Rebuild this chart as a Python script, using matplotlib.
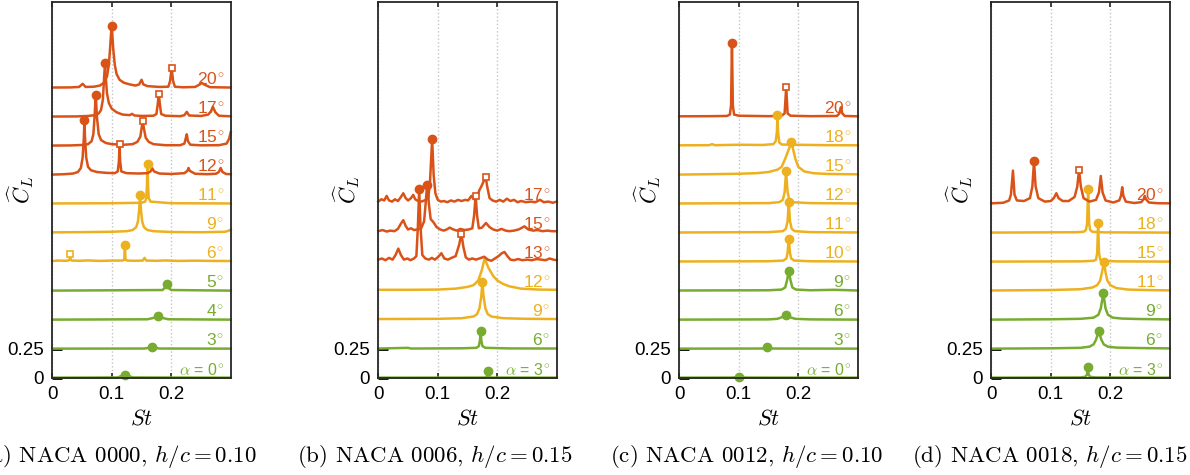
import numpy as np
import matplotlib
matplotlib.use("Agg")
import matplotlib.pyplot as plt

plt.rcParams['font.family'] = ['Liberation Sans', 'DejaVu Sans']
plt.rcParams['mathtext.fontset'] = 'cm'

GREEN = '#77AC30'
YELLOW = '#EDB120'
RED = '#D95319'
COL = {'g': GREEN, 'y': YELLOW, 'r': RED}

# ---------------- panel (a) NACA 0000, h/c = 0.10 ----------------
a_angles = [0, 3, 4, 5, 6, 9, 11, 12, 15, 17, 20]
a_regime = ['g', 'g', 'g', 'g', 'y', 'y', 'y', 'r', 'r', 'r', 'r']
a00 = [(0, .003), (.11, .005), (.122, .03), (.135, .005), (.3, .003)]
a03 = [(0, .003), (.155, .004), (.167, .015), (.18, .004), (.3, .003)]
a04 = [(0, .003), (.16, .006), (.172, .02), (.177, .035), (.183, .02), (.195, .006), (.3, .003)]
a05 = [(0, .003), (.185, .008), (.19, .03), (.192, .058), (.194, .03), (.2, .008), (.3, .003)]
a06 = [(0, .008), (.01, .012), (.02, .01), (.027, .012), (.029, .02), (.03, .07), (.031, .02),
       (.033, .012), (.045, .01), (.06, .013), (.08, .009), (.1, .012), (.118, .012), (.121, .02),
       (.122, .15), (.123, .02), (.126, .012), (.14, .01), (.152, .012), (.155, .035), (.158, .012),
       (.175, .01), (.19, .013), (.21, .009), (.24, .011), (.27, .009), (.3, .008)]
a09 = [(0, .005), (.05, .007), (.1, .01), (.125, .015), (.135, .025), (.141, .05), (.144, .1),
       (.146, .2), (.1475, .33), (.149, .2), (.151, .1), (.154, .05), (.16, .025), (.17, .015),
       (.2, .008), (.25, .006), (.29, .01), (.297, .02), (.3, .03)]
a11 = [(0, .004), (.1, .006), (.15, .01), (.156, .02), (.158, .05), (.159, .15), (.16, .34),
       (.161, .15), (.162, .05), (.165, .02), (.2, .006), (.3, .004)]
a12 = [(0, .003), (.02, .006), (.035, .012), (.043, .025), (.048, .06), (.051, .15), (.053, .32),
       (.054, .47), (.055, .32), (.057, .15), (.06, .07), (.065, .04), (.075, .025), (.09, .018),
       (.105, .015), (.11, .03), (.112, .12), (.113, .27), (.114, .12), (.116, .03), (.125, .015),
       (.145, .012), (.16, .015), (.165, .03), (.168, .057), (.171, .03), (.18, .012), (.2, .008),
       (.222, .015), (.227, .035), (.229, .06), (.231, .035), (.24, .01), (.26, .006), (.275, .01),
       (.28, .025), (.283, .06), (.286, .025), (.292, .008), (.3, .006)]
a15 = [(0, .003), (.03, .004), (.05, .008), (.06, .015), (.066, .04), (.069, .1), (.071, .25),
       (.073, .44), (.075, .25), (.078, .1), (.082, .05), (.09, .025), (.1, .015), (.12, .01),
       (.135, .015), (.143, .035), (.148, .08), (.15, .15), (.152, .215), (.154, .15), (.157, .07),
       (.162, .035), (.17, .015), (.19, .006), (.215, .006), (.222, .02), (.224, .06), (.226, .1),
       (.228, .04), (.232, .01), (.25, .005), (.28, .006), (.293, .02), (.297, .06), (.3, .12)]
a17 = [(0, .003), (.04, .004), (.06, .008), (.072, .015), (.078, .03), (.082, .06), (.085, .15),
       (.087, .33), (.0886, .466), (.09, .33), (.092, .2), (.095, .12), (.1, .07), (.108, .04),
       (.118, .02), (.13, .015), (.134, .026), (.138, .012), (.15, .008), (.17, .01), (.175, .025),
       (.177, .1), (.179, .2), (.181, .1), (.183, .025), (.19, .01), (.215, .006), (.222, .015),
       (.226, .043), (.23, .012), (.25, .008), (.262, .02), (.267, .05), (.27, .086), (.274, .04),
       (.28, .01), (.3, .005)]
a20 = [(0, .003), (.03, .004), (.045, .008), (.051, .035), (.056, .008), (.07, .01), (.08, .02),
       (.087, .045), (.092, .1), (.095, .2), (.097, .33), (.0985, .45), (.0998, .53), (.101, .45),
       (.1025, .33), (.105, .2), (.108, .12), (.113, .07), (.12, .045), (.13, .03), (.14, .02),
       (.146, .03), (.15, .07), (.153, .03), (.16, .015), (.18, .008), (.195, .01), (.198, .06),
       (.2006, .17), (.203, .06), (.206, .01), (.22, .005), (.24, .008), (.248, .03), (.251, .043),
       (.255, .03), (.265, .006), (.3, .003)]
a_curves = [a00, a03, a04, a05, a06, a09, a11, a12, a15, a17, a20]
a_peak = [(.122, .03), (.167, .015), (.177, .035), (.192, .058), (.122, .15), (.1475, .33),
          (.16, .34), (.054, .47), (.073, .44), (.0886, .466), (.0998, .53)]
a_second = [None, None, None, None, (.03, .07), None, None, (.113, .27), (.152, .215),
            (.179, .2), (.2006, .17)]

# ---------------- panel (b) NACA 0006, h/c = 0.15 ----------------
b_angles = [3, 6, 9, 12, 13, 15, 17]
b_regime = ['g', 'g', 'y', 'y', 'r', 'r', 'r']
b03 = [(0, .003), (.18, .004), (.183, .015), (.184, .06), (.185, .015), (.188, .004), (.3, .003)]
b06 = [(0, .004), (.05, .01), (.055, .004), (.1, .005), (.14, .006), (.165, .01), (.169, .025),
       (.171, .08), (.172, .158), (.173, .08), (.175, .025), (.18, .01), (.22, .005), (.3, .004)]
b09 = [(0, .008), (.1, .01), (.14, .015), (.16, .03), (.166, .05), (.17, .1), (.173, .2),
       (.175, .324), (.177, .2), (.18, .1), (.184, .05), (.19, .03), (.21, .015), (.25, .01), (.3, .008)]
b12 = [(0, .01), (.05, .01), (.1, .012), (.13, .02), (.15, .035), (.16, .05), (.168, .09),
       (.174, .18), (.1787, .28), (.185, .2), (.193, .13), (.2, .09), (.21, .06), (.22, .04),
       (.24, .02), (.27, .012), (.3, .01)]
b13 = [(0, .02), (.006, .03), (.012, .015), (.018, .035), (.024, .02), (.029, .06), (.0336, .115),
       (.038, .06), (.043, .02), (.049, .03), (.054, .015), (.06, .03), (.064, .05), (.0665, .3),
       (.0687, .626), (.071, .3), (.074, .06), (.079, .03), (.085, .02), (.09, .035), (.095, .02),
       (.1, .04), (.106, .075), (.111, .03), (.117, .02), (.123, .035), (.13, .05), (.136, .15),
       (.1396, .244), (.143, .13), (.147, .04), (.152, .02), (.158, .03), (.164, .02), (.17, .03),
       (.178, .045), (.184, .02), (.19, .01), (.196, .03), (.202, .05), (.2075, .075), (.212, .086),
       (.217, .05), (.222, .02), (.228, .015), (.235, .025), (.242, .015), (.25, .02), (.258, .015),
       (.266, .025), (.274, .02), (.281, .015), (.288, .03), (.294, .02), (.3, .015)]
b15 = [(0, .015), (.007, .025), (.014, .012), (.02, .02), (.027, .015), (.033, .035), (.038, .08),
       (.042, .11), (.046, .06), (.05, .03), (.055, .04), (.06, .025), (.066, .03), (.072, .04),
       (.077, .1), (.0795, .25), (.0821, .417), (.085, .25), (.088, .12), (.093, .09), (.098, .05),
       (.104, .03), (.11, .02), (.115, .03), (.12, .046), (.126, .03), (.132, .02), (.138, .035),
       (.145, .025), (.152, .03), (.158, .04), (.161, .15), (.1636, .319), (.166, .15), (.169, .04),
       (.174, .045), (.181, .086), (.187, .05), (.193, .03), (.2, .02), (.207, .035), (.214, .02),
       (.22, .015), (.228, .02), (.236, .03), (.2457, .057), (.252, .03), (.26, .02), (.268, .025),
       (.276, .015), (.284, .02), (.292, .015), (.3, .015)]
b17 = [(0, .02), (.005, .04), (.01, .03), (.014, .069), (.018, .03), (.023, .02), (.028, .04),
       (.033, .025), (.038, .06), (.042, .092), (.046, .05), (.05, .03), (.055, .05), (.0587, .078),
       (.062, .04), (.067, .025), (.072, .02), (.078, .03), (.084, .05), (.087, .2), (.0905, .557),
       (.093, .25), (.096, .09), (.1, .035), (.105, .02), (.11, .025), (.116, .015), (.122, .03),
       (.128, .02), (.134, .035), (.14, .025), (.146, .035), (.151, .03), (.1564, .069), (.161, .04),
       (.166, .06), (.17, .12), (.173, .149), (.1775, .2), (.1804, .236), (.183, .15), (.187, .05),
       (.192, .03), (.198, .02), (.204, .035), (.21, .02), (.216, .045), (.222, .025), (.228, .035),
       (.234, .015), (.24, .025), (.248, .015), (.256, .02), (.264, .015), (.272, .035), (.278, .015),
       (.286, .02), (.293, .01), (.3, .02)]
b_curves = [b03, b06, b09, b12, b13, b15, b17]
b_peak = [(.184, .06), (.172, .158), (.175, .324), None, (.0687, .626), (.0821, .417), (.0905, .557)]
b_second = [None, None, None, None, (.1396, .244), (.1636, .319), (.1804, .236)]

# ---------------- panel (c) NACA 0012, h/c = 0.10 ----------------
c_angles = [0, 3, 6, 9, 10, 11, 12, 15, 18, 20]
c_regime = ['g', 'g', 'g', 'g', 'y', 'y', 'y', 'y', 'y', 'r']
c00 = [(0, .003), (.09, .004), (.101, .012), (.11, .004), (.3, .003)]
c03 = [(0, .003), (.14, .004), (.148, .015), (.156, .004), (.3, .003)]
c06 = [(0, .003), (.15, .005), (.165, .01), (.173, .025), (.179, .045), (.185, .025), (.195, .01),
       (.22, .005), (.3, .003)]
c09 = [(0, .004), (.15, .006), (.172, .012), (.178, .03), (.181, .09), (.184, .17), (.187, .09),
       (.19, .03), (.196, .012), (.22, .006), (.26, .01), (.3, .004)]
c10 = [(0, .004), (.15, .006), (.175, .012), (.18, .03), (.182, .08), (.184, .2), (.186, .08),
       (.188, .03), (.193, .012), (.22, .006), (.3, .004)]
c11 = [(0, .004), (.15, .007), (.174, .015), (.179, .035), (.182, .1), (.184, .265), (.186, .1),
       (.189, .035), (.194, .015), (.22, .007), (.3, .004)]
c12 = [(0, .004), (.15, .007), (.168, .015), (.174, .035), (.177, .1), (.1795, .28), (.182, .1),
       (.185, .035), (.19, .015), (.22, .007), (.3, .004)]
c15 = [(0, .003), (.05, .006), (.1, .01), (.13, .015), (.15, .025), (.165, .045), (.172, .07),
       (.178, .14), (.1885, .28), (.195, .14), (.2, .07), (.21, .03), (.225, .015), (.25, .008),
       (.3, .005)]
c18 = [(0, .005), (.05, .006), (.055, .015), (.06, .006), (.1, .01), (.14, .008), (.158, .015),
       (.162, .04), (.164, .12), (.165, .265), (.166, .12), (.168, .03), (.172, .012), (.185, .01),
       (.19, .02), (.195, .01), (.25, .006), (.3, .005)]
c20 = [(0, .005), (.05, .006), (.08, .008), (.085, .02), (.087, .1), (.0885, .64), (.09, .1),
       (.092, .02), (.1, .01), (.15, .006), (.172, .01), (.177, .03), (.1797, .26), (.182, .03),
       (.187, .01), (.22, .006), (.265, .008), (.269, .03), (.2715, .083), (.274, .03), (.278, .008),
       (.3, .005)]
c_curves = [c00, c03, c06, c09, c10, c11, c12, c15, c18, c20]
c_peak = [(.101, .012), (.148, .015), (.179, .045), (.184, .17), (.184, .2), (.184, .265),
          (.1795, .28), (.1885, .28), (.165, .265), (.0885, .64)]
c_second = [None, None, None, None, None, None, None, None, None, (.1797, .26)]

# ---------------- panel (d) NACA 0018, h/c = 0.15 ----------------
d_angles = [3, 6, 9, 11, 15, 18, 20]
d_regime = ['g', 'g', 'g', 'y', 'y', 'y', 'r']
d03 = [(0, .003), (.15, .005), (.158, .01), (.161, .03), (.1623, .095), (.1635, .03), (.166, .01),
       (.175, .005), (.3, .003)]
d06 = [(0, .003), (.1, .006), (.15, .01), (.165, .02), (.172, .04), (.176, .08), (.1805, .152),
       (.185, .08), (.189, .04), (.196, .02), (.21, .012), (.25, .008), (.3, .005)]
d09 = [(0, .003), (.1, .006), (.15, .01), (.172, .02), (.18, .045), (.184, .1), (.1883, .23),
       (.192, .1), (.196, .045), (.204, .02), (.22, .012), (.25, .008), (.3, .005)]
d11 = [(0, .004), (.1, .008), (.15, .015), (.17, .03), (.178, .05), (.183, .09), (.186, .16),
       (.1895, .25), (.192, .16), (.195, .09), (.2, .05), (.21, .025), (.23, .012), (.26, .008),
       (.3, .005)]
d15 = [(0, .003), (.15, .005), (.172, .01), (.176, .02), (.178, .08), (.1795, .336), (.181, .08),
       (.183, .02), (.187, .01), (.21, .005), (.3, .003)]
d18 = [(0, .003), (.14, .006), (.155, .01), (.159, .025), (.161, .08), (.1627, .377), (.1645, .08),
       (.166, .025), (.17, .01), (.19, .005), (.3, .003)]
d20 = [(0, .005), (.02, .01), (.03, .03), (.033, .08), (.0364, .287), (.039, .08), (.043, .03),
       (.055, .025), (.065, .05), (.069, .15), (.0718, .37), (.0745, .15), (.079, .05), (.09, .02),
       (.1, .025), (.105, .05), (.1093, .092), (.113, .05), (.12, .025), (.13, .025), (.14, .06),
       (.1445, .15), (.1475, .293), (.1505, .15), (.155, .05), (.165, .02), (.176, .035), (.181, .1),
       (.184, .241), (.187, .1), (.192, .03), (.205, .012), (.215, .03), (.218, .07), (.22, .144),
       (.222, .07), (.226, .02), (.24, .008), (.252, .015), (.256, .04), (.258, .069), (.26, .04),
       (.265, .012), (.28, .006), (.3, .005)]
d_curves = [d03, d06, d09, d11, d15, d18, d20]
d_peak = [(.1623, .095), (.1805, .152), (.1883, .23), (.1895, .25), (.1795, .336), (.1627, .377),
          (.0718, .37)]
d_second = [None, None, None, None, None, None, (.1475, .293)]

captions = [r'(a) NACA 0000, $h/c = 0.10$', r'(b) NACA 0006, $h/c = 0.15$',
            r'(c) NACA 0012, $h/c = 0.10$', r'(d) NACA 0018, $h/c = 0.15$']

STEP = 0.25

fig = plt.figure(figsize=(11.9, 4.75), dpi=100)
lefts = [52.3, 378.3, 679.3, 991.3]
cap_x = [119, 435, 747, 1050]
panels = [(a_angles, a_regime, a_curves, a_peak, a_second),
          (b_angles, b_regime, b_curves, b_peak, b_second),
          (c_angles, c_regime, c_curves, c_peak, c_second),
          (d_angles, d_regime, d_curves, d_peak, d_second)]

for k, (angles, regime, curves, peak, second) in enumerate(panels):
    ax = fig.add_axes([lefts[k] / 1190, 1 - 378 / 475, 178.5 / 1190, 376 / 475])
    ax.set_xlim(0, 0.3)
    ax.set_ylim(0, 3.24)
    ax.grid(axis='x', linestyle=':', color='#c4c4c4', lw=1.0)
    ax.set_axisbelow(True)
    for i, ang in enumerate(angles):
        c = COL[regime[i]]
        off = STEP * i
        st = [p[0] for p in curves[i]]
        amp = [p[1] + off for p in curves[i]]
        ax.plot(st, amp, color=c, lw=1.8, solid_joinstyle='round', clip_on=False, zorder=3)
        if peak[i] is not None:
            ax.plot(peak[i][0], peak[i][1] + off, 'o', color=c, ms=6, zorder=4, clip_on=False)
        if second[i] is not None:
            ax.plot(second[i][0], second[i][1] + off, 's', mfc='white', mec=c, mew=1.2,
                    ms=4.5, zorder=4)
        if i == 0:
            ax.text(0.289, off + 0.022, r'$\alpha$ = %d$^{\circ}$' % ang, color=c, fontsize=11.5,
                    ha='right', va='baseline', zorder=5)
        else:
            ax.text(0.289, off + 0.026, '%d$^{\\circ}$' % ang, color=c, fontsize=12.5,
                    ha='right', va='baseline', zorder=5)

    ax.set_xticks([0, 0.1, 0.2])
    ax.set_xticklabels(['0', '0.1', '0.2'])
    ax.set_yticks([0, 0.25])
    ax.set_yticklabels(['0', '0.25'])
    ax.tick_params(axis='x', direction='in', top=True, length=3.5, width=1.2, labelsize=13.5,
                   pad=6, color='#262626')
    ax.tick_params(axis='y', direction='in', length=7.5, width=2.0, labelsize=13.5, pad=6,
                   color='black')
    for s in ax.spines.values():
        s.set_linewidth(1.3)
        s.set_color('#262626')
        s.set_zorder(6)
    ax.set_xlabel('$St$', fontsize=16)
    ax.xaxis.set_label_coords(0.5, -0.08)
    ax.set_ylabel(r'$\widehat{C}_L$', fontsize=16)
    ax.yaxis.set_label_coords(-0.09, 0.5)

    fig.text(cap_x[k] / 1190, 1 - 456 / 475, captions[k], ha='center', va='center',
             fontsize=16.5, family='cmr10')

fig.savefig('out.png', dpi=100)
